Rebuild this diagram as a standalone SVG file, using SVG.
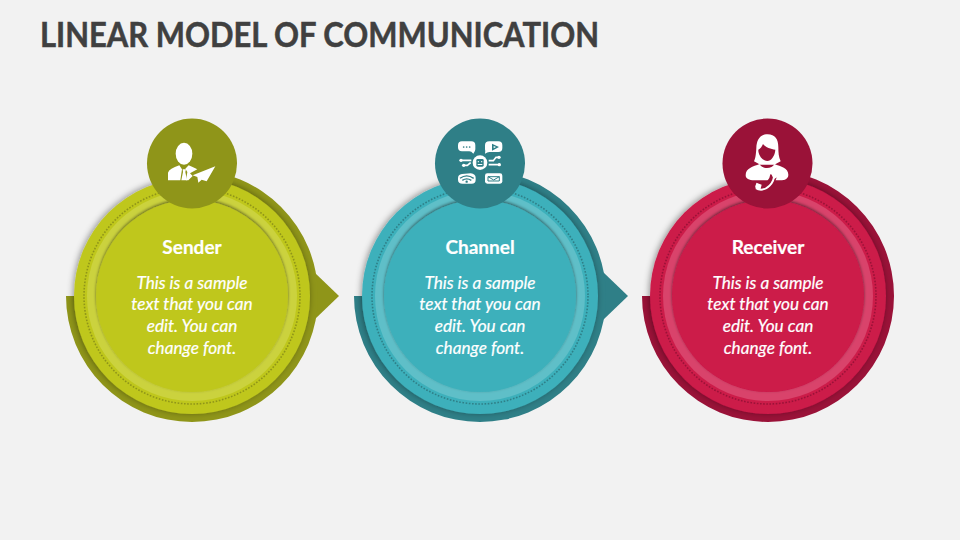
<svg xmlns="http://www.w3.org/2000/svg" width="960" height="540" viewBox="0 0 960 540">
<style>
.title{font:700 34px Lato,"Liberation Sans",sans-serif;fill:#404040;stroke:#404040;stroke-width:.5}
.h{font:700 19px Lato,"Liberation Sans",sans-serif;fill:#fff;text-anchor:middle;stroke:#fff;stroke-width:.2}
.b{font:italic 400 17.200px Lato,"Liberation Sans",sans-serif;fill:#fff;text-anchor:middle;stroke:#fff;stroke-width:.2}
.dot{fill:none;stroke-width:1.600;stroke-dasharray:1.600 1.600}
.w{fill:#fff}
.s1 .back,.s1 .icon{fill:#8f9519}.s1 .main,.s1 .inner{fill:#bfc71f}.s1 .band{fill:#cbd23e}.s1 .dot{stroke:#8f9519}
.s2 .back,.s2 .icon{fill:#2f7f87}.s2 .main,.s2 .inner{fill:#3eb0bb}.s2 .band{fill:#5fbfc8}.s2 .dot{stroke:#2f7f87}
.s3 .back,.s3 .icon{fill:#9a1238}.s3 .main,.s3 .inner{fill:#cc1a4a}.s3 .band{fill:#d9436b}.s3 .dot{stroke:#9a1238}
</style>
<defs>
<filter id="sh" x="-20%" y="-20%" width="140%" height="140%"><feDropShadow dx="-1" dy="-1" stdDeviation="3" flood-color="#000" flood-opacity=".4"/></filter>
<filter id="shi" x="-20%" y="-20%" width="140%" height="140%"><feDropShadow dx="0" dy="-1.500" stdDeviation="1.600" flood-color="#000" flood-opacity=".5"/></filter>
</defs>
<rect width="960" height="540" fill="#f2f2f2"/>
<text class="title" x="40" y="46.500" textLength="559" lengthAdjust="spacingAndGlyphs">LINEAR MODEL OF COMMUNICATION</text>

<g id="connectors">
<polygon fill="#8f9519" points="314,272 339,296 314,320"/>
<polygon fill="#2f7f87" points="603,272 628,296 603,320"/>
</g>

<g id="sender" class="s1">
<path class="back" d="M66 296A126 126 0 1 0 192 170L192 296Z"/>
<circle class="main" cx="192" cy="296" r="118" filter="url(#sh)"/>
<circle class="band" cx="192" cy="296" r="105"/>
<circle class="dot" cx="192" cy="296" r="108"/>
<circle class="inner" cx="192" cy="296" r="96" filter="url(#shi)"/>
<circle class="icon" cx="192" cy="163.500" r="45"/>
<g transform="translate(140 112) scale(.33333)">
<ellipse class="w" cx="132" cy="125" rx="25" ry="33"/>
<path class="w" d="M84 205V182Q88 170 118 160L126 172L121 205ZM146 160Q160 166 172 172L150 184L158 192L145 205H138L142 180L136 170Z"/>
<path class="w" d="M128 172H138L136 180L141 205H124L129 180Z"/>
<path class="w" d="M226 163L158 190L172 195L175 212L185 203L200 208Z"/>
</g>
<text class="h" x="192" y="253.500">Sender</text>
<text class="b" x="192" y="289">This is a sample</text>
<text class="b" x="192" y="310">text that you can</text>
<text class="b" x="192" y="332">edit. You can</text>
<text class="b" x="192" y="354">change font.</text>
</g>

<g id="channel" class="s2">
<path class="back" d="M354 296A126 126 0 1 0 480 170L480 296Z"/>
<circle class="main" cx="480" cy="296" r="118" filter="url(#sh)"/>
<circle class="band" cx="480" cy="296" r="105"/>
<circle class="dot" cx="480" cy="296" r="108"/>
<circle class="inner" cx="480" cy="296" r="96" filter="url(#shi)"/>
<circle class="icon" cx="480" cy="163.500" r="45"/>
<g transform="translate(430 112) scale(.33333)">
<path class="w" d="M96 88H124Q136 88 136 100V112Q136 118 130 125Q124 118 118 118H96Q84 118 84 106V100Q84 88 96 88Z"/>
<path class="w" d="M178 88H205Q217 88 217 100V108Q217 120 205 120H178Q172 120 165 125Q167 118 165 112V100Q165 88 178 88Z"/>
<circle class="w" cx="150" cy="152" r="22"/>
<path class="w" d="M96 186L122 184Q137 186 137 197V203Q137 215 125 215H98Q84 215 84 203V198Q84 188 96 186Z"/>
<path class="w" d="M172 184H210Q217 184 217 191V208Q217 215 210 215H172Q165 215 165 208V191Q165 184 172 184Z"/>
<g fill="#2f7f87"><circle cx="101" cy="105" r="2.500"/><circle cx="110" cy="105" r="2.500"/><circle cx="119" cy="105" r="2.500"/>
<path d="M186 95L207 105L186 116ZM191 102V109L198 105Z" fill-rule="evenodd"/>
<rect x="139" y="141" width="22" height="23" rx="4"/></g>
<g class="w"><circle cx="145" cy="149" r="2"/><circle cx="155" cy="149" r="2"/><rect x="143" y="156" width="14" height="3"/></g>
<g fill="none" stroke="#fff" stroke-width="5"><path d="M92 145H124M100 160H112L122 152"/><path d="M176 146H190L198 136H206M176 158H208"/></g>
<g class="w"><circle cx="93" cy="145" r="5"/><circle cx="101" cy="160" r="5"/><circle cx="207" cy="136" r="5"/><circle cx="208" cy="158" r="5"/></g>
<g fill="none" stroke="#2f7f87" stroke-width="4"><path d="M90 199Q110 184 131 199M97 205Q110 196 124 205"/><path d="M174 194V207H208V194H174L191 204L208 194" stroke-width="3"/></g>
<circle cx="110" cy="209" r="3.500" fill="#2f7f87"/>
</g>
<text class="h" x="480" y="253.500">Channel</text>
<text class="b" x="480" y="289">This is a sample</text>
<text class="b" x="480" y="310">text that you can</text>
<text class="b" x="480" y="332">edit. You can</text>
<text class="b" x="480" y="354">change font.</text>
</g>

<g id="receiver" class="s3">
<path class="back" d="M642 296A126 126 0 1 0 768 170L768 296Z"/>
<circle class="main" cx="768" cy="296" r="118" filter="url(#sh)"/>
<circle class="band" cx="768" cy="296" r="105"/>
<circle class="dot" cx="768" cy="296" r="108"/>
<circle class="inner" cx="768" cy="296" r="96" filter="url(#shi)"/>
<circle class="icon" cx="767.500" cy="163.500" r="45"/>
<g transform="translate(717 112) scale(.33333)">
<path class="w" d="M152 67C128 67 119 85 118 108C117 128 115 140 111 148L130 158H172L191 148C185 136 184 122 184 106C184 82 174 67 152 67Z"/>
<path fill="#9a1238" d="M138 96C146 106 162 112 175 113C174 132 162 147 151 147C136 147 123 128 124 113C130 110 135 104 138 96Z"/>
<path class="w" d="M128 156C108 164 86 168 86 190C86 200 96 205 112 205H190C204 205 214 200 214 188C214 168 192 164 172 156C166 172 134 172 128 156Z"/>
<path fill="none" stroke="#9a1238" stroke-width="20" d="M170 188C168 210 148 232 126 226"/>
<path fill="none" stroke="#fff" stroke-width="6" d="M172 186C172 212 150 238 124 232C116 228 116 220 122 216"/>
<path class="w" d="M162 184L178 178L183 194L170 202ZM118 212L134 218L130 234L116 232Z"/>
</g>
<text class="h" x="768" y="253.500">Receiver</text>
<text class="b" x="768" y="289">This is a sample</text>
<text class="b" x="768" y="310">text that you can</text>
<text class="b" x="768" y="332">edit. You can</text>
<text class="b" x="768" y="354">change font.</text>
</g>
</svg>
